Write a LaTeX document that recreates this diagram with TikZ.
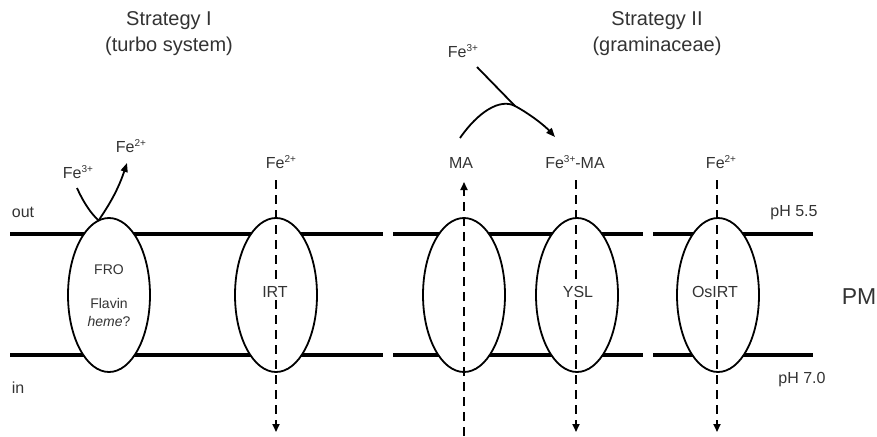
\documentclass[tikz,border=0pt]{standalone}
\usepackage{fontspec}
\setmainfont{Liberation Sans}
\usetikzlibrary{arrows.meta,shapes.geometric}
\newcommand\chg[1]{\raisebox{0.42em}{\fontsize{10}{10}\selectfont #1}}
\definecolor{txt}{gray}{0.2}
\begin{document}
\begin{tikzpicture}[x=1pt,y=-1pt,
  mem/.style={line width=4pt},
  prot/.style={draw, line width=1.8pt, fill=white, ellipse, minimum width=82pt, minimum height=154pt, inner sep=0pt},
  flow/.style={line width=1.8pt, dash pattern=on 9pt off 6pt},
  tipa/.style={-{Triangle[length=8pt,width=7pt]}},
  curv/.style={line width=1.8pt, -{Triangle[length=9pt,width=7pt]}},
  lab/.style={inner sep=0pt, text=txt, font=\fontsize{16}{19}\selectfont},
  plab/.style={inner sep=1.5pt, fill=white, text=txt, font=\fontsize{16}{19}\selectfont},
  title/.style={inner sep=0pt, align=center, text=txt, font=\fontsize{20}{26}\selectfont}]
\useasboundingbox (0,0) rectangle (877,436);
% membrane
\draw[mem] (10,234) -- (383,234);
\draw[mem] (393,234) -- (643,234);
\draw[mem] (653,234) -- (813,234);
\draw[mem] (10,355) -- (383,355);
\draw[mem] (393,355) -- (643,355);
\draw[mem] (653,355) -- (813,355);
% FRO reaction (drawn below the protein)
\node[lab] (fe3a) at (78,172) {Fe\chg{3+}};
\node[lab] (fe2a) at (131,146) {Fe\chg{2+}};
\coordinate (froA) at (77,188);
\coordinate (froX) at (106,226);
\coordinate (froY) at (95,226);
\coordinate (froB) at (127,163);
\draw[line width=1.8pt] (froA) .. controls (86,208) and (96,220) .. (froX);
\draw[curv] (froY) .. controls (104,212) and (116,196) .. (froB);
% proteins
\node[prot] (fro) at (109,295) {};
\node[prot] (irt) at (276,295) {};
\node[prot] (ma) at (464,295) {};
\node[prot] (ysl) at (577,295) {};
\node[prot] (osirt) at (718,295) {};
% titles
\node[title] (s1) at (169,34) {Strategy I\\(turbo system)};
\node[title] (s2) at (657,34) {Strategy II\\(graminaceae)};
% side labels
\node[lab] (out) at (23,212) {out};
\node[lab] (in) at (18,388) {in};
\node[lab] (ph55) at (794,213) {pH 5.5};
\node[lab] (ph70) at (802,380) {pH 7.0};
\node[inner sep=0pt, text=txt, font=\fontsize{23}{26}\selectfont] (pm) at (859,297) {PM};
\node[inner sep=0pt, align=center, text=txt, font=\fontsize{14}{18}\selectfont] (frot) at (109,296) {FRO\\[16pt]Flavin\\\textit{heme}?};
% IRT
\node[lab] (fe2b) at (281,162) {Fe\chg{2+}};
\coordinate (irtT) at (276,180);
\coordinate (irtB) at (276,432);
\draw[flow,tipa] (irtT) -- (irtB);
\node[plab] (irtl) at (275,292) {IRT};
% MA
\node[lab] (mal) at (461,163) {MA};
\coordinate (maB) at (464,436);
\coordinate (maT) at (464,182);
\draw[flow,tipa] (maB) -- (maT);
% YSL
\node[lab] (fema) at (575,162) {Fe\chg{3+}-MA};
\coordinate (yslT) at (576,180);
\coordinate (yslB) at (576,432);
\draw[flow,tipa] (yslT) -- (yslB);
\node[plab] (ysll) at (578,292) {YSL};
% OsIRT
\node[lab] (fe2c) at (721,162) {Fe\chg{2+}};
\coordinate (osT) at (717,180);
\coordinate (osB) at (717,432);
\draw[flow,tipa] (osT) -- (osB);
\node[plab] (osl) at (715,292) {OsIRT};
% chelation
\node[lab] (fe3b) at (463,51) {Fe\chg{3+}};
\coordinate (cA) at (460,138);
\coordinate (cM) at (515,106);
\coordinate (cB) at (555,137);
\coordinate (fe3s) at (477,67);
\draw[curv] (cA) .. controls (478,112) and (500,98) .. (cM) .. controls (530,114) and (545,126) .. (cB);
\draw[line width=1.8pt] (fe3s) -- (cM);
\end{tikzpicture}
\end{document}
